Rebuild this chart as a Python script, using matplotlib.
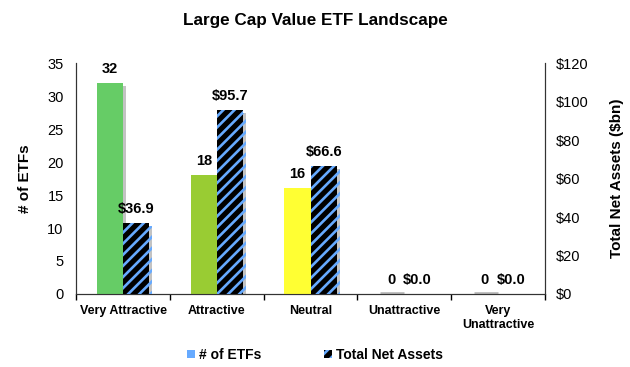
import matplotlib
matplotlib.use("Agg")
import matplotlib.pyplot as plt
import matplotlib.patheffects as pe
from matplotlib.patches import Patch
import numpy as np

plt.rcParams['font.family'] = ['Liberation Sans', 'DejaVu Sans']
plt.rcParams['hatch.linewidth'] = 1.9

# data
categories = ['Very Attractive', 'Attractive', 'Neutral', 'Unattractive', 'Very\nUnattractive']
num_etfs = [32, 18, 16, 0, 0]
net_assets = [36.9, 95.7, 66.6, 0.0, 0.0]
bar_colors = ['#66CC66', '#99CC33', '#FFFF33', '#CCCCCC', '#CCCCCC']
blue = '#66AAFF'

fig = plt.figure(figsize=(6.3, 3.67), dpi=100)
ax = fig.add_axes([0.121, 0.199, 0.744, 0.629])
ax2 = ax.twinx()

x = np.arange(len(categories))
w = 0.28
shadow = [pe.SimplePatchShadow(offset=(2, -2), shadow_rgbFace='#888888', alpha=0.5), pe.Normal()]

# count bars on the left axis
ax.bar(x - w / 2, num_etfs, w, color=bar_colors, linewidth=0, path_effects=shadow, zorder=3)
# net assets bars on the right axis, black with blue stripes
ax2.bar(x + w / 2, net_assets, w, color='black', edgecolor=blue, linewidth=0,
        hatch='///', path_effects=shadow, zorder=3)

# small grey marks at the baseline for the empty categories
for xi, v in zip(x, num_etfs):
    if v == 0:
        ax.plot([xi - w / 2 - 0.12, xi - w / 2 + 0.14], [0.15, 0.15], color='#BBBBBB',
                lw=2, solid_capstyle='butt', zorder=2, clip_on=False)

for xi, v in zip(x, num_etfs):
    ax.annotate(f'{v}', (xi - w / 2, v), xytext=(0, 5), textcoords='offset points',
                ha='center', va='bottom', fontsize=10.5, fontweight='bold')
for xi, v in zip(x, net_assets):
    ax2.annotate(f'${v:.1f}', (xi + w / 2, v), xytext=(0, 5), textcoords='offset points',
                 ha='center', va='bottom', fontsize=10.5, fontweight='bold')

ax.set_xlim(-0.5, len(categories) - 0.5)
ax.set_ylim(0, 35)
ax2.set_ylim(0, 120)
ax.set_yticks(range(0, 36, 5))
ax2.set_yticks(range(0, 121, 20))
ax2.set_yticklabels([f'${t}' for t in range(0, 121, 20)])

ax.set_xticks(x)
ax.set_xticklabels(categories, fontsize=9, fontweight='bold')
ax.set_xticks(np.arange(-0.5, len(categories)), minor=True)
ax.tick_params(axis='x', which='major', length=0, pad=8)
ax.tick_params(axis='x', which='minor', length=4, direction='out', width=1)
ax.tick_params(axis='y', length=0, labelsize=10.5, pad=9)
ax2.tick_params(axis='y', length=0, labelsize=10.5, pad=8)

for a in (ax, ax2):
    a.spines['top'].set_visible(False)
    for s in ('left', 'right', 'bottom'):
        a.spines[s].set_color('#333333')

ax.set_ylabel('# of ETFs', fontsize=11, fontweight='bold', labelpad=11)
ax2.set_ylabel('Total Net Assets ($bn)', fontsize=11, fontweight='bold', labelpad=15)
fig.suptitle('Large Cap Value ETF Landscape', fontsize=12.3, fontweight='bold', y=0.965)

handles = [Patch(facecolor=blue, linewidth=0),
           Patch(facecolor='black', edgecolor=blue, hatch='///', linewidth=0)]
fig.legend(handles, ['# of ETFs', 'Total Net Assets'], loc='lower center',
           bbox_to_anchor=(0.5, -0.02), ncol=2, frameon=False, handlelength=0.6,
           handleheight=0.6, handletextpad=0.3, columnspacing=4.5,
           prop={'weight': 'bold', 'size': 10})

fig.savefig('out.png', dpi=100)
